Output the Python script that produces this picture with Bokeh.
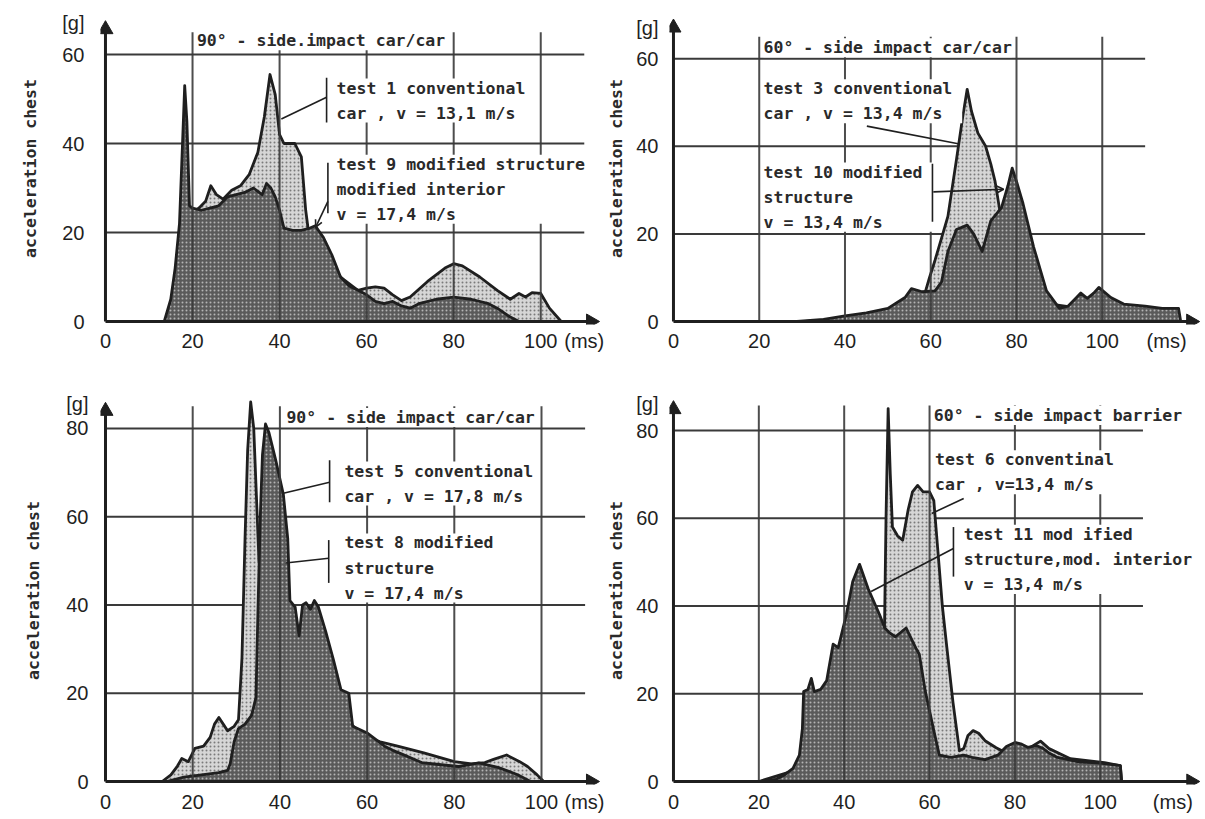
import math
from bokeh.plotting import figure
from bokeh.layouts import gridplot
from bokeh.models import (Range1d, FixedTicker, Arrow, OpenHead, Label, ColumnDataSource)
from bokeh.embed import file_html
from bokeh.resources import INLINE

# ---------------------------------------------------------------- data
X_TICKS = [0, 20, 40, 60, 80, 100]
Y_TICKS_TOP = [0, 20, 40, 60]
Y_TICKS_BOTTOM = [0, 20, 40, 60, 80]
X_UNIT = "(ms)"
Y_UNIT = "[g]"
Y_TITLE = "acceleration chest"

# panel 1: 90 deg side impact car/car
P1_TITLE = "90° - side.impact car/car"
P1_LIGHT_LABEL = "test 1  conventional\ncar , v = 13,1 m/s"
P1_DARK_LABEL = "test 9 modified structure\nmodified interior\nv = 17,4 m/s"
P1_LIGHT_MS = [15, 17, 19, 20, 21.5, 23, 24.2, 25.5, 27, 29, 31, 33, 35, 36.5, 37.8, 39, 40, 41, 43.5, 45,
               46, 46.8, 50, 54, 58, 60, 62, 64, 66, 68, 70, 74, 78, 80, 82, 86, 90, 93, 95, 96.5,
               98, 100, 102, 104.7]
P1_LIGHT_G = [0, 5, 18, 24.5, 25.5, 27, 30.5, 28.5, 27.5, 29.5, 30.5, 33, 38, 46, 55.5, 51, 42, 40, 40, 37,
              25, 19, 16, 10, 7, 7.5, 7.8, 7.5, 6, 4.7, 5.5, 9, 12, 13, 12.5, 10, 7, 5, 6.3, 5.5,
              6.5, 6.3, 3, 0]
P1_DARK_MS = [13.5, 15, 16, 17, 17.7, 18.2, 18.7, 19.3, 20, 22, 24, 26, 28, 30, 32, 34, 36, 37, 38, 39,
              40, 41, 43, 45, 47, 48.2, 50, 52, 54, 56, 58, 60, 62, 64, 66, 68, 70, 72, 76, 80,
              84, 88, 90, 93, 95]
P1_DARK_G = [0, 5, 12, 22, 40, 53, 45, 26, 25.5, 25, 25.5, 26, 28, 28.5, 29, 30, 28.5, 31, 30, 28,
             25, 21, 20.5, 20.5, 21, 21.5, 19, 15, 10, 8, 7, 6, 4.5, 4, 4.5, 3.5, 3, 4, 5, 5.5,
             5, 4, 3, 1, 0]

# panel 2: 60 deg side impact car/car
P2_TITLE = "60° - side impact car/car"
P2_LIGHT_LABEL = "test 3  conventional\ncar , v = 13,4 m/s"
P2_DARK_LABEL = "test 10  modified\nstructure\nv = 13,4 m/s"
P2_LIGHT_MS = [30, 45, 52, 56, 58.5, 59.7, 61, 62.5, 64, 66, 67.5, 68.5, 69.5, 71, 72.8, 74, 75, 76, 77, 80,
               84, 88, 95, 105, 115]
P2_LIGHT_G = [0, 1, 2.5, 4, 6, 10, 14, 19, 24, 37, 47, 53, 48, 43, 40, 36, 32, 26, 20, 12,
              7, 4, 3, 2, 1]
P2_DARK_MS = [28, 35, 40, 45, 50, 54, 55.5, 58, 61, 62.5, 64, 66, 68.5, 70, 72, 74, 76.5, 78, 79, 80,
              81.5, 84, 87, 90, 92, 94, 95, 96.5, 98, 99.2, 102, 105, 110, 114, 117.8, 118.3]
P2_DARK_G = [0, 0.5, 1.3, 2, 3, 5.5, 7.5, 6.8, 7, 9, 16, 21, 22, 20, 16, 23, 26, 31, 35, 32,
             27, 17, 7, 3, 3.5, 5.5, 6.5, 5.3, 6.5, 7.8, 5.5, 4, 3.5, 3, 3, 0]

# panel 3: 90 deg side impact car/car
P3_TITLE = "90° - side impact car/car"
P3_LIGHT_LABEL = "test 5 conventional\ncar , v = 17,8 m/s"
P3_DARK_LABEL = "test 8  modified\nstructure\nv = 17,4 m/s"
P3_LIGHT_MS = [13, 15, 16.5, 17.5, 19, 20.5, 22.5, 24, 25, 26, 27, 28, 29.5, 30.5, 31.3, 32, 32.6, 33.3, 34, 34.6,
               35.2, 37, 40, 45, 50, 55, 60, 63, 67, 73, 80, 84, 87, 89, 92, 95, 96.8, 99, 100.5]
P3_LIGHT_G = [0, 1.5, 3.5, 5.2, 4.5, 7.5, 8, 10, 13, 14.5, 13, 11.5, 12.5, 14, 28, 55, 75, 86, 80, 65,
              50, 42, 36, 28, 20, 14, 10, 9, 8, 6.5, 4.5, 4, 4.3, 5, 6, 4.5, 3.4, 1.5, 0]
P3_DARK_MS = [14, 18, 22, 26, 28, 28.6, 29.5, 30.5, 32, 33.5, 34.5, 35, 35.5, 36, 36.7, 37.5, 39, 40.8, 41.8, 42.3,
              43.5, 44.4, 45.2, 46, 47, 47.9, 48.8, 50.5, 52.3, 54, 55.8, 56.7, 60, 64, 66, 68, 72.5, 77, 81, 85.6,
              90, 94.4, 97.5]
P3_DARK_G = [0, 1, 1.5, 2, 2.5, 4, 9, 12, 13, 15, 19, 40, 60, 74, 81, 79, 73, 65, 55, 41,
             39.5, 33, 40, 40.5, 39, 41, 39.6, 34, 27.5, 20.8, 20, 12.5, 11, 8, 7, 6.2, 4.3, 3.8, 3.4, 4.2,
             3.2, 1.6, 0]

# panel 4: 60 deg side impact barrier
P4_TITLE = "60° - side impact barrier"
P4_LIGHT_LABEL = "test 6  conventinal\ncar , v=13,4 m/s"
P4_DARK_LABEL = "test 11  mod ified\nstructure,mod. interior\nv = 13,4 m/s"
P4_LIGHT_MS = [20, 30, 40, 45, 48, 49.3, 49.8, 50.3, 50.8, 51.3, 52.5, 53.7, 55, 56, 57.2, 58.5, 60, 61, 62, 63,
               64, 65.5, 67, 68, 69, 70.2, 71.5, 73, 75.6, 78, 82, 84, 86, 88, 93, 101, 104.7, 105]
P4_LIGHT_G = [0, 3, 8, 12, 15, 25, 60, 85, 70, 58, 56, 55, 62, 66, 67.5, 66, 66, 64, 52, 40,
              31, 18, 7, 7.5, 10.5, 11.6, 11, 9.3, 7.7, 6.5, 6.5, 8, 9.2, 7.5, 5.2, 4.3, 3.6, 0]
P4_DARK_MS = [20, 24, 26, 28, 29.5, 30.2, 30.5, 31.5, 32.3, 33, 34.5, 35.9, 37.4, 38.6, 40.5, 42, 43.6, 45.6, 48.3, 49.5,
              50.5, 52, 54.5, 56.8, 57.6, 59, 61, 62.3, 65, 68, 70, 73, 76, 78, 80, 81.6, 83, 85, 86.5, 88,
              90, 95, 100, 104.7, 105]
P4_DARK_G = [0, 0.5, 1.5, 3, 6, 12, 20.5, 21, 23.5, 20.5, 21, 23, 31.3, 30.5, 38, 45.6, 49.5, 44, 38, 35,
             34, 33, 35, 30.4, 29, 20.6, 11.6, 6, 5.5, 6, 5.5, 5, 6, 8, 8.9, 8.5, 7.8, 8.2, 7.6, 6.5,
             5.5, 4.5, 4.2, 3.6, 0]

# ---------------------------------------------------------------- style
INK = "#1f1f1f"
NOTE_INK = "#2a2a2a"
GRID = "#3a3a3a"
LIGHT_FILL, LIGHT_DOTS = "#d6d6d6", "#7a7a7a"
DARK_FILL, DARK_DOTS = "#5a5a5a", "#b4b4b4"
MONO = "DejaVu Sans Mono"
TICK_FONT = "Liberation Sans"
NOTE_SIZE = "16.5px"
HEAD = 15  # arrow-head marker size (px)

# page-pixel layout of each panel (figure origin/size, frame edges, data origin and scale)
L1 = dict(ox=0, oy=0, w=604, h=392, fl=98, fr=601, ft=12, fb=324, x0=103, sx=4.37, y0=321, sy=4.45)
L2 = dict(ox=604, oy=0, w=601, h=392, fl=665, fr=1203, ft=6, fb=325, x0=669, sx=4.32, y0=322, sy=4.48)
L3 = dict(ox=0, oy=392, w=604, h=427, fl=100, fr=601, ft=396, fb=785, x0=105, sx=4.36, y0=782, sy=4.425)
L4 = dict(ox=604, oy=392, w=601, h=427, fl=665, fr=1203, ft=394, fb=784, x0=669, sx=4.30, y0=781, sy=4.41)


def make_panel(L, y_ticks, x_unit_at, y_unit_at, ylab_std, xlab_std, title_std):
    xr = Range1d((L["fl"] - L["x0"]) / L["sx"], (L["fr"] - L["x0"]) / L["sx"])
    yr = Range1d((L["y0"] - L["fb"]) / L["sy"], (L["y0"] - L["ft"]) / L["sy"])
    p = figure(width=L["w"], height=L["h"], x_range=xr, y_range=yr,
               output_backend="svg", toolbar_location=None,
               min_border_left=L["fl"] - L["ox"], min_border_right=L["ox"] + L["w"] - L["fr"],
               min_border_top=L["ft"] - L["oy"], min_border_bottom=L["oy"] + L["h"] - L["fb"])
    p.outline_line_color = None
    p.background_fill_color = "white"
    p.border_fill_color = "white"
    p.xgrid.visible = False
    p.ygrid.visible = False
    p.xaxis.ticker = FixedTicker(ticks=X_TICKS + [x_unit_at])
    p.xaxis.major_label_overrides = {x_unit_at: X_UNIT}
    p.yaxis.ticker = FixedTicker(ticks=y_ticks + [y_unit_at])
    p.yaxis.major_label_overrides = {y_unit_at: Y_UNIT}
    for ax in (p.xaxis[0], p.yaxis[0]):
        ax.axis_line_color = None
        ax.major_tick_line_color = None
        ax.minor_tick_line_color = None
        ax.major_tick_in = 0
        ax.major_tick_out = 0
        ax.major_label_text_font = TICK_FONT
        ax.major_label_text_font_size = "20px"
        ax.major_label_text_color = INK
    p.yaxis.major_label_standoff = ylab_std
    p.xaxis.major_label_standoff = xlab_std
    p.yaxis.axis_label = Y_TITLE
    p.yaxis.axis_label_text_font = MONO
    p.yaxis.axis_label_text_font_size = NOTE_SIZE
    p.yaxis.axis_label_text_font_style = "bold"
    p.yaxis.axis_label_text_color = NOTE_INK
    p.yaxis.axis_label_standoff = title_std
    return p


def add_hgrid(p, y_ticks, x_end):
    hy = [t for t in y_ticks if t > 0]
    p.segment(x0=[0] * len(hy), y0=hy, x1=[x_end] * len(hy), y1=hy,
              line_color=GRID, line_width=2)


def add_vgrid(p, y_end):
    vx = [t for t in X_TICKS if t > 0]
    p.segment(x0=vx, y0=[0] * len(vx), x1=vx, y1=[y_end] * len(vx),
              line_color=GRID, line_width=2, line_alpha=0.9)


def add_series(p, ms, g, light):
    src = ColumnDataSource(dict(t=ms, a=g))
    fill, dots = (LIGHT_FILL, LIGHT_DOTS) if light else (DARK_FILL, DARK_DOTS)
    p.varea(x="t", y1=0, y2="a", source=src, fill_color=fill,
            hatch_pattern="dot", hatch_color=dots, hatch_scale=4, hatch_weight=1.3)
    p.line(x="t", y="a", source=src, line_color=INK, line_width=2.8, line_join="round")


def add_axes(p, L, x_tip, y_tip):
    # tip offset of a triangle marker from its centre, in data units
    off = HEAD * math.sqrt(3) / 3
    dx, dy = off / L["sx"], off / L["sy"]
    p.segment(x0=[0, 0], y0=[0, 0], x1=[x_tip - dx, 0], y1=[0, y_tip - dy],
              line_color=INK, line_width=3)
    p.scatter(x=[x_tip - dx], y=[0], marker="triangle", size=HEAD, angle=-math.pi / 2,
              fill_color=INK, line_color=INK)
    p.scatter(x=[0], y=[y_tip - dy], marker="triangle", size=HEAD, angle=0,
              fill_color=INK, line_color=INK)


def note(p, x, y, text, baseline="top"):
    p.add_layout(Label(x=x, y=y, text=text, text_font=MONO, text_font_size=NOTE_SIZE,
                       text_font_style="bold", text_color=NOTE_INK, text_align="left",
                       text_baseline=baseline, text_line_height=1.32,
                       background_fill_color="white"))


def rule(p, xa, ya, xb, yb, head=False):
    p.add_layout(Arrow(x_start=xa, y_start=ya, x_end=xb, y_end=yb, line_color=INK, line_width=1.6,
                       end=OpenHead(size=7, line_color=INK, line_width=1.6) if head else None))


# ---------------- panel 1
p1 = make_panel(L1, Y_TICKS_TOP, 110, 67, 16, 5, 19)
add_hgrid(p1, Y_TICKS_TOP, 110)
add_series(p1, P1_LIGHT_MS, P1_LIGHT_G, True)
add_series(p1, P1_DARK_MS, P1_DARK_G, False)
add_vgrid(p1, 65)
add_axes(p1, L1, 113.5, 67.6)
note(p1, 21, 63.1, P1_TITLE, baseline="middle")
note(p1, 53.1, 54.6, P1_LIGHT_LABEL)
note(p1, 53.1, 37.5, P1_DARK_LABEL)
rule(p1, 50.8, 54.8, 50.8, 44.7)
rule(p1, 50.8, 50.4, 40.4, 45.5)
rule(p1, 51.1, 35.7, 51.1, 24.3)
rule(p1, 51.1, 27.0, 48.3, 21.2, head=True)

# ---------------- panel 2
p2 = make_panel(L2, Y_TICKS_TOP, 115, 67, 11, 5, 7)
add_hgrid(p2, Y_TICKS_TOP, 110)
add_series(p2, P2_LIGHT_MS, P2_LIGHT_G, True)
add_series(p2, P2_DARK_MS, P2_DARK_G, False)
add_vgrid(p2, 65)
add_axes(p2, L2, 122.7, 69.0)
note(p2, 21, 62.5, P2_TITLE, baseline="middle")
note(p2, 21, 55.3, P2_LIGHT_LABEL)
note(p2, 21, 36.3, P2_DARK_LABEL)
rule(p2, 45.1, 44.6, 66.4, 40.6)
rule(p2, 60.4, 36.0, 60.4, 22.8)
rule(p2, 60.6, 29.6, 77.0, 30.2, head=True)

# ---------------- panel 3
p3 = make_panel(L3, Y_TICKS_BOTTOM, 110, 86, 12, 6, 20)
add_hgrid(p3, Y_TICKS_BOTTOM, 110)
add_series(p3, P3_LIGHT_MS, P3_LIGHT_G, True)
add_series(p3, P3_DARK_MS, P3_DARK_G, False)
add_vgrid(p3, 85)
add_axes(p3, L3, 113.3, 85.9)
note(p3, 41.5, 82.5, P3_TITLE, baseline="middle")
note(p3, 54.8, 72.5, P3_LIGHT_LABEL)
note(p3, 54.8, 56.2, P3_DARK_LABEL)
rule(p3, 51.4, 72.8, 51.4, 63.3)
rule(p3, 51.4, 67.8, 40.8, 65.3)
rule(p3, 51.2, 54.7, 51.2, 45.0)
rule(p3, 51.2, 50.6, 41.3, 49.5)

# ---------------- panel 4
p4 = make_panel(L4, Y_TICKS_BOTTOM, 117, 86, 11, 6, 7)
add_hgrid(p4, Y_TICKS_BOTTOM, 110)
add_series(p4, P4_LIGHT_MS, P4_LIGHT_G, True)
add_series(p4, P4_DARK_MS, P4_DARK_G, False)
add_vgrid(p4, 85.7)
add_axes(p4, L4, 123.3, 86.8)
note(p4, 61, 83.4, P4_TITLE, baseline="middle")
note(p4, 61.3, 75.5, P4_LIGHT_LABEL)
note(p4, 68, 58.5, P4_DARK_LABEL)
rule(p4, 68.0, 64.5, 60.5, 61.1)
rule(p4, 65.6, 58.0, 65.6, 46.7)
rule(p4, 65.6, 53.1, 46.3, 43.3)

grid = gridplot([[p1, p2], [p3, p4]], toolbar_location=None)
open("out.html", "w").write(file_html(grid, INLINE))
